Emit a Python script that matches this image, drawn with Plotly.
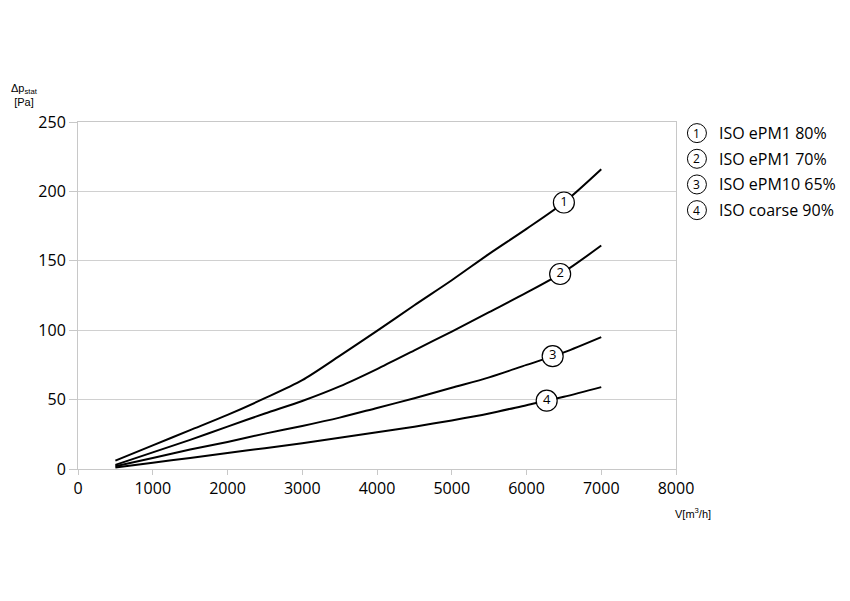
import numpy as np
import plotly.graph_objects as go

# airflow V [m3/h]
flow = [500, 1000, 1500, 2000, 2500, 3000, 3500, 4000, 4500, 5000, 5500, 6000, 6500, 7000]

# pressure drop [Pa] per filter class
dp_epm1_80 = [6, 17, 28, 39, 51, 64, 81.5, 99.5, 118, 136, 155, 173, 192, 216]
dp_epm1_70 = [3, 12, 21, 30.5, 40, 49, 59.5, 72, 85.5, 99, 113, 127, 142, 161]
dp_epm10_65 = [2, 8, 14, 19.5, 25.5, 31, 37, 44, 51, 58.5, 66, 75, 84, 95]
dp_coarse_90 = [1, 4.5, 8, 11.5, 15, 18.5, 22.5, 26.5, 30.5, 35, 40, 46, 52, 59]

names = ["ISO ePM1 80%", "ISO ePM1 70%", "ISO ePM10 65%", "ISO coarse 90%"]
numbers = ["1", "2", "3", "4"]
label_at = [6500, 6450, 6350, 6270]  # where the circled number sits on each curve

series = [dp_epm1_80, dp_epm1_70, dp_epm10_65, dp_coarse_90]
font = "Open Sans, DejaVu Sans, sans-serif"

fig = go.Figure()
for ys in series:
    fig.add_trace(go.Scatter(x=flow, y=ys, mode="lines", line_shape="spline",
                             line=dict(color="black", width=2, smoothing=0.8), hoverinfo="skip"))

# circled labels on curves
lx = label_at
ly = [float(np.interp(x, flow, ys)) for x, ys in zip(lx, series)]
fig.add_trace(go.Scatter(x=lx, y=ly, mode="markers+text", text=numbers,
                         textposition="middle center",
                         textfont=dict(family=font, size=13, color="black"),
                         marker=dict(size=21, color="white", line=dict(color="black", width=1.2)),
                         hoverinfo="skip"))

# legend: circled number + name
for i, (num, n) in enumerate(zip(numbers, names)):
    yy = 0.968 - i * 0.074
    fig.add_shape(type="circle", xref="paper", yref="paper", xsizemode="pixel", ysizemode="pixel",
                  xanchor=1.035, yanchor=yy, x0=-9.5, x1=9.5, y0=-9.5, y1=9.5,
                  line=dict(color="black", width=1), fillcolor="white")
    fig.add_annotation(xref="paper", yref="paper", x=1.035, y=yy, xanchor="center", yanchor="middle",
                       showarrow=False, text=num, font=dict(family=font, size=12, color="black"))
    fig.add_annotation(xref="paper", yref="paper", x=1.069, y=yy, xanchor="left", yanchor="middle",
                       showarrow=False, text=n, font=dict(family=font, size=16, color="black"))

fig.add_annotation(xref="paper", yref="paper", x=-0.115, y=1.035, xanchor="left", yanchor="bottom",
                   showarrow=False, align="center",
                   text="\u0394p<sub>stat</sub><br>[Pa]",
                   font=dict(family="Liberation Sans, Arial, sans-serif", size=11, color="black"))
fig.add_annotation(xref="paper", yref="paper", x=0.995, y=-0.1, xanchor="left", yanchor="top",
                   showarrow=False, text="V[m<sup>3</sup>/h]",
                   font=dict(family="Liberation Sans, Arial, sans-serif", size=11, color="black"))

fig.update_layout(
    width=842, height=593,
    margin=dict(l=70, r=174, t=114, b=132),
    paper_bgcolor="white", plot_bgcolor="white",
    showlegend=False,
    font=dict(family=font, size=16, color="black"),
)
fig.update_xaxes(range=[0, 8000], dtick=1000, showgrid=False, zeroline=False,
                 showline=True, linecolor="#c8c8c8", linewidth=1, mirror=True,
                 ticks="outside", ticklen=5, tickcolor="#c8c8c8",
                 tickfont=dict(size=16))
fig.update_yaxes(range=[0, 250], dtick=50, showgrid=True, gridcolor="#d0d0d0", zeroline=False,
                 showline=True, linecolor="#c8c8c8", linewidth=1, mirror=True,
                 ticks="outside", ticklen=8, tickcolor="#c8c8c8",
                 tickfont=dict(size=16))

fig.write_html("out.html")
